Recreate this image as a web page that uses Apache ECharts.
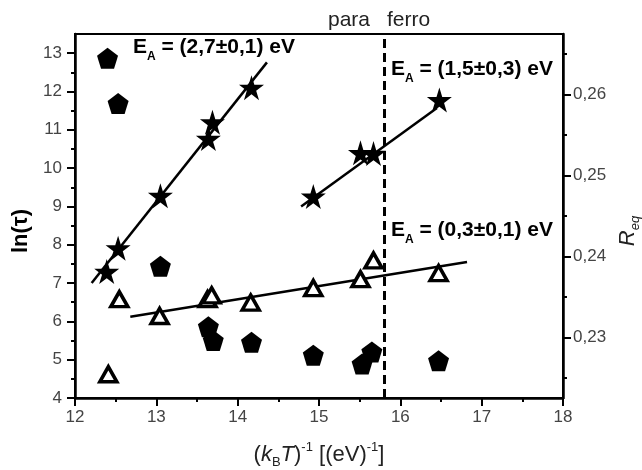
<!DOCTYPE html>
<html>
<head>
<meta charset="utf-8">
<script src="https://cdn.jsdelivr.net/npm/echarts@6/dist/echarts.min.js"></script>
<style>
  html, body { margin: 0; padding: 0; background: #fff; }
  #chart { width: 642px; height: 470px; }
</style>
</head>
<body>
<div id="chart"></div>
<script>
// stars, E_A = 2,7 eV group
var starX1 = [12.39, 12.53, 13.05, 13.64, 13.69, 14.17];
var starY1 = [7.30, 7.91, 9.28, 10.77, 11.20, 12.10];
// stars, E_A = 1,5 eV group
var starX2 = [14.93, 15.51, 15.67, 16.48];
var starY2 = [9.26, 10.40, 10.38, 11.78];
// open triangles, E_A = 0,3 eV
var triX = [12.41, 12.545, 13.04, 13.63, 13.68, 14.16, 14.93, 15.51, 15.67, 16.47];
var triY = [4.62, 6.58, 6.14, 6.58, 6.68, 6.49, 6.87, 7.10, 7.59, 7.26];
// filled pentagons, R_eq (right axis)
var pentX = [12.40, 12.53, 13.05, 13.64, 13.70, 14.17, 14.93, 15.53, 15.65, 16.47];
var pentR = [0.2645, 0.2589, 0.2388, 0.2313, 0.2296, 0.2294, 0.2278, 0.2267, 0.2282, 0.2271];
// fitted lines (end points)
var fitX1 = [12.205, 14.36], fitY1 = [7.0, 12.76];
var fitX2 = [14.78, 16.45], fitY2 = [9.0, 11.57];
var fitX3 = [12.68, 16.82], fitY3 = [6.12, 7.55];
// para / ferro boundary
var transitionX = 15.8;
// ticks
var leftMajor = [4, 5, 6, 7, 8, 9, 10, 11, 12, 13];
var leftMinor = [4.5, 5.5, 6.5, 7.5, 8.5, 9.5, 10.5, 11.5, 12.5];
var rightMajor = [0.23, 0.24, 0.25, 0.26];
var rightMinor = [0.225, 0.235, 0.245, 0.255, 0.265];

var STAR = 'path://M50,0 L61,35 L98,35 L68,57 L79,91 L50,70 L21,91 L32,57 L2,35 L39,35 Z';
var PENT = 'path://M50,0 L100,38 L81,100 L19,100 L0,38 Z';
var FONT = 'Liberation Sans';

function zip(xs, ys) {
  var out = [];
  for (var i = 0; i < xs.length; i++) out.push([xs[i], ys[i]]);
  return out;
}

function fitLine(xs, ys) {
  return {
    type: 'line', data: zip(xs, ys), symbol: 'none', z: 2,
    lineStyle: { color: '#000', width: 2.5 }, silent: true
  };
}

var eaRich = {
  m: { fontFamily: FONT, fontSize: 21, fontWeight: 'bold', color: '#000', lineHeight: 31, verticalAlign: 'middle' },
  s: { fontFamily: FONT, fontSize: 12, fontWeight: 'bold', color: '#000', lineHeight: 12, verticalAlign: 'bottom' }
};

function eaLabel(x, y, txt) {
  return {
    type: 'text', left: x, top: y, z: 10,
    style: { text: '{m|E}{s|A}{m| = ' + txt + ' eV}', rich: eaRich }
  };
}

// y axis: either the labelled major ticks or an overlay with short minor ticks
function yAx(pos, min, max, major, minor, isMinor) {
  var ax = {
    type: 'value', min: min, max: max, position: pos,
    splitLine: { show: false },
    axisLine: { show: !isMinor, lineStyle: { color: '#000', width: 2.5 } },
    axisTick: {
      inside: false, length: isMinor ? 4 : 8,
      lineStyle: { color: '#000', width: 2 },
      customValues: isMinor ? minor : major
    },
    axisLabel: { show: !isMinor, color: '#444', fontFamily: FONT, fontSize: 17, margin: pos === 'left' ? 13 : 10, customValues: major }
  };
  return ax;
}

var chart = echarts.init(document.getElementById('chart'));

var yLeft = yAx('left', 4, 13.5, leftMajor, leftMinor, false);
yLeft.name = 'ln(τ)';
yLeft.nameLocation = 'middle';
yLeft.nameRotate = 90;
yLeft.nameGap = 41;
yLeft.nameTextStyle = { fontFamily: FONT, fontSize: 22, fontWeight: 'bold', color: '#000', padding: [0, 30, 0, 0] };

var yRight = yAx('right', 0.2225, 0.2675, rightMajor, rightMinor, false);
yRight.axisLabel.formatter = function (v) { return v.toFixed(2).replace('.', ','); };
yRight.name = '{r|R}{s|eq}';
yRight.nameLocation = 'middle';
yRight.nameRotate = 90;
yRight.nameGap = 50;
yRight.nameTextStyle = {
  padding: [0, 30, 0, 0],
  rich: {
    r: { fontFamily: FONT, fontSize: 22, fontStyle: 'italic', color: '#222', lineHeight: 28, verticalAlign: 'middle' },
    s: { fontFamily: FONT, fontSize: 13, fontStyle: 'italic', color: '#222', lineHeight: 13, verticalAlign: 'bottom' }
  }
};

var option = {
  animation: false,
  backgroundColor: '#fff',
  grid: {
    left: 75, right: 79, top: 34, bottom: 72, outerBoundsMode: 'none',
    show: true, borderColor: '#000', borderWidth: 2, backgroundColor: 'transparent'
  },
  xAxis: {
    type: 'value', min: 12, max: 18, interval: 1,
    axisLine: { lineStyle: { color: '#000', width: 2.5 } },
    axisTick: { inside: false, length: 8, lineStyle: { color: '#000', width: 2 } },
    minorTick: { show: true, splitNumber: 2, length: 4, lineStyle: { color: '#000', width: 2 } },
    splitLine: { show: false },
    axisLabel: { color: '#444', fontFamily: FONT, fontSize: 17, margin: 11 },
    name: '{p|(}{i|k}{s|B}{i|T}{p|)}{u|-1}{p| [(eV)}{u|-1}{p|]}',
    nameLocation: 'middle', nameGap: 43,
    nameTextStyle: {
      rich: {
        p: { fontFamily: FONT, fontSize: 22, color: '#222', lineHeight: 28, verticalAlign: 'middle' },
        i: { fontFamily: FONT, fontSize: 22, fontStyle: 'italic', color: '#222', lineHeight: 28, verticalAlign: 'middle' },
        s: { fontFamily: FONT, fontSize: 13, color: '#222', lineHeight: 13, verticalAlign: 'bottom' },
        u: { fontFamily: FONT, fontSize: 13, color: '#222', lineHeight: 13, verticalAlign: 'top' }
      }
    }
  },
  yAxis: [
    yLeft,
    yRight,
    yAx('left', 4, 13.5, leftMajor, leftMinor, true),
    yAx('right', 0.2225, 0.2675, rightMajor, rightMinor, true)
  ],
  graphic: [
    { type: 'text', left: 328, top: 10, style: { text: 'para', fontFamily: FONT, fontSize: 21, fill: '#222' } },
    { type: 'text', left: 387, top: 10, style: { text: 'ferro', fontFamily: FONT, fontSize: 21, fill: '#222' } },
    eaLabel(133, 37, '(2,7±0,1)'),
    eaLabel(391, 59, '(1,5±0,3)'),
    eaLabel(391, 220, '(0,3±0,1)')
  ],
  series: [
    fitLine(fitX1, fitY1),
    fitLine(fitX2, fitY2),
    fitLine(fitX3, fitY3),
    {
      type: 'scatter', data: zip(starX1, starY1).concat(zip(starX2, starY2)),
      symbol: STAR, symbolSize: 25, z: 5,
      itemStyle: { color: '#000', opacity: 1 },
      markLine: {
        silent: true, symbol: 'none', label: { show: false },
        lineStyle: { color: '#000', width: 3, type: [9, 5], opacity: 1 },
        data: [{ xAxis: transitionX }]
      }
    },
    {
      type: 'scatter', data: zip(triX, triY),
      symbol: 'triangle', symbolSize: [17, 15], z: 5,
      itemStyle: { color: '#fff', borderColor: '#000', borderWidth: 3.5, opacity: 1 }
    },
    {
      type: 'scatter', yAxisIndex: 1, data: zip(pentX, pentR),
      symbol: PENT, symbolSize: 21, z: 5,
      itemStyle: { color: '#000', opacity: 1 }
    }
  ]
};
chart.setOption(option);
</script>
</body>
</html>
